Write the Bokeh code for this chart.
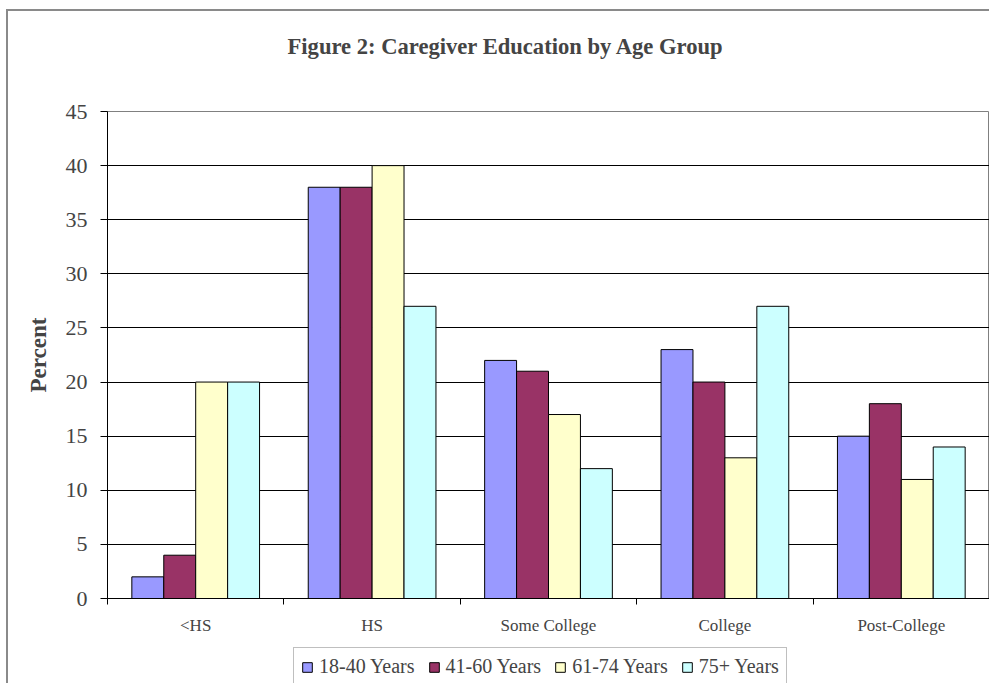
from bokeh.plotting import figure
from bokeh.layouts import column
from bokeh.models import (FactorRange, Range1d, FixedTicker, LinearAxis, Title,
                          CategoricalAxis, Legend, LegendItem, ColumnDataSource)
from bokeh.transform import dodge
from bokeh.embed import file_html
from bokeh.resources import INLINE

categories = ["<HS", "HS", "Some College", "College", "Post-College"]
series_names = ["18-40 Years", "41-60 Years", "61-74 Years", "75+ Years"]
age_18_40 = [2, 38, 22, 23, 15]
age_41_60 = [4, 38, 21, 20, 18]
age_61_74 = [20, 40, 17, 13, 11]
age_75_up = [20, 27, 12, 27, 14]
y_ticks = [0, 5, 10, 15, 20, 25, 30, 35, 40, 45]

colors = ["#9999FF", "#993366", "#FFFFCC", "#CCFFFF"]
FONT = "Liberation Serif"

source = ColumnDataSource(data=dict(cat=categories, a=age_18_40, b=age_41_60,
                                    c=age_61_74, d=age_75_up))

p = figure(x_range=FactorRange(*categories), y_range=Range1d(0, 45), title=None,
           width=981, height=627, output_backend="svg", toolbar_location=None,
           x_axis_location=None, min_border_left=99, min_border_right=0,
           min_border_top=100, min_border_bottom=40)
p.x_range.range_padding = 0
p.background_fill_color = "white"
p.border_fill_color = "white"
p.outline_line_color = "#808080"
p.outline_line_width = 1


def spacer(size):
    # invisible axis used only to reserve room in a side panel
    return LinearAxis(ticker=FixedTicker(ticks=[0]), major_tick_out=size, major_tick_in=0,
                      minor_tick_out=0, minor_tick_in=0, axis_line_color=None,
                      major_tick_line_color=None, major_label_text_color=None,
                      major_label_text_font_size="0px", major_label_standoff=0)


# title, with room between it and the frame
p.add_layout(spacer(48), "above")
p.add_layout(Title(text="Figure 2: Caregiver Education by Age Group", text_font=FONT,
                   text_font_size="22.6px", text_font_style="bold", align="left",
                   offset=180, standoff=10), "above")

# grid
p.xgrid.visible = False
p.ygrid.ticker = FixedTicker(ticks=y_ticks[1:-1])
p.ygrid.grid_line_color = "black"
p.ygrid.grid_line_width = 1

# y axis
p.yaxis.ticker = FixedTicker(ticks=y_ticks)
p.yaxis.axis_label = "Percent"
p.yaxis.axis_label_text_font = FONT
p.yaxis.axis_label_text_font_size = "23px"
p.yaxis.axis_label_text_font_style = "bold"
p.yaxis.axis_label_standoff = 12
p.yaxis.major_label_text_font = FONT
p.yaxis.major_label_text_font_size = "22px"
p.yaxis.major_label_standoff = 13
p.yaxis.major_tick_out = 7
p.yaxis.major_tick_in = 0
p.yaxis.minor_tick_out = 0
p.yaxis.minor_tick_in = 0
p.yaxis.axis_line_color = "black"
p.yaxis.major_tick_line_color = "black"

# x axes: tick marks at category boundaries (synthetic coordinates), then category labels
tick_axis = LinearAxis(ticker=FixedTicker(ticks=list(range(len(categories) + 1))),
                       major_tick_out=6, major_tick_in=0, minor_tick_out=0, minor_tick_in=0,
                       major_label_text_color=None, major_label_text_font_size="0px",
                       major_label_standoff=0,
                       axis_line_color="black", major_tick_line_color="black")
p.add_layout(tick_axis, "below")
cat_axis = CategoricalAxis(major_tick_out=0, major_tick_in=0, axis_line_color=None,
                           major_label_text_font=FONT, major_label_text_font_size="17px",
                           major_label_standoff=11)
p.add_layout(cat_axis, "below")

# bars
w = 0.181
offsets = [-1.5 * w, -0.5 * w, 0.5 * w, 1.5 * w]
bar_cols = ["a", "b", "c", "d"]
for col, off, color in zip(bar_cols, offsets, colors):
    p.vbar(x=dodge("cat", off, range=p.x_range), top=col, width=w, source=source,
           fill_color=color, line_color="black", line_width=1)

# legend strip under the chart (its swatches come from hidden copies of the series)
p2 = figure(x_range=p.x_range, y_range=Range1d(0, 45), width=981, height=45,
            output_backend="svg", toolbar_location=None, x_axis_location=None,
            y_axis_location=None, min_border_left=0, min_border_right=0,
            min_border_top=0, min_border_bottom=0)
p2.outline_line_color = None
p2.xgrid.visible = False
p2.ygrid.visible = False
p2.background_fill_color = "white"
p2.border_fill_color = "white"
items = []
for col, name, off, color in zip(bar_cols, series_names, offsets, colors):
    r = p2.vbar(x=dodge("cat", off, range=p.x_range), top=col, width=w, source=source,
                fill_color=color, line_color="black", line_width=1, visible=False)
    items.append(LegendItem(label=name, renderers=[r]))

legend = Legend(items=items, orientation="horizontal", location=(186, -3),
                label_text_font=FONT, label_text_font_size="20px",
                glyph_width=12, glyph_height=12, label_standoff=6, spacing=13,
                padding=7, margin=0, border_line_color="#808080", border_line_width=1,
                background_fill_color="white", background_fill_alpha=1,
                inactive_fill_alpha=0)
p2.add_layout(legend)

page = column(p, p2, spacing=0)
# chart-area border (left and top edges, as in the reference)
page.styles = {"margin-left": "6px", "margin-top": "9px",
               "border-left": "2px solid #8a8a8a", "border-top": "2px solid #8a8a8a"}

open("out.html", "w").write(file_html(page, INLINE))
